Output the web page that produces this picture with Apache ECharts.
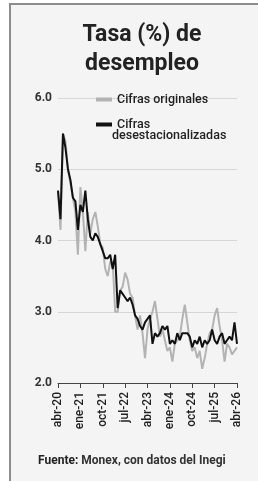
<!DOCTYPE html>
<html>
<head>
<meta charset="utf-8">
<script src="https://cdn.jsdelivr.net/npm/echarts@6/dist/echarts.min.js"></script>
<style>
  html, body { margin: 0; padding: 0; background: #fff; }
  #frame { position: absolute; left: 9px; top: 3px; width: 260px; height: 490px;
           border: 2px solid #8c8c8c; background: #f4f4f4; box-sizing: border-box; }
  #main { position: absolute; left: 0; top: 0; width: 258px; height: 481px; }
</style>
</head>
<body>
<div id="frame"></div>
<div id="main"></div>
<script>
// meses de abr-20 a abr-26
var monthNames = ['ene','feb','mar','abr','may','jun','jul','ago','sep','oct','nov','dic'];
var startYear = 2020, startMonth = 3, nMonths = 73;

// tasa original (gris)
var original = [
  4.7, 4.15, 5.5, 5.4, 5.0, 4.8, 4.6, 4.4, 3.8, 4.75, 4.4, 3.85,
  4.4, 4.1, 4.3, 4.4, 4.2, 3.95, 3.9, 3.6, 3.5, 3.7, 3.7, 3.0,
  3.0, 3.3, 3.35, 3.55, 3.45, 3.25, 3.2, 2.95, 2.75, 2.95, 2.7, 2.35,
  2.75, 2.9, 3.0, 3.15, 2.9, 2.65, 2.75, 2.6, 2.45, 2.5, 2.3, 2.55,
  2.6, 2.65, 2.9, 3.1, 2.85, 2.6, 2.45, 2.5, 2.35, 2.45, 2.2, 2.35,
  2.55, 2.7, 2.75, 2.95, 3.05, 2.8, 2.6, 2.3, 2.55, 2.5, 2.4, 2.45,
  2.5
];
// tasa desestacionalizada (negra)
var ajustada = [
  4.7, 4.3, 5.5, 5.3, 5.0, 4.85, 4.6, 4.55, 4.15, 4.5, 4.4, 4.7,
  4.3, 4.05, 4.0, 4.1, 4.05, 3.95, 3.85, 3.75, 3.75, 3.8, 3.6, 3.8,
  3.05, 3.3, 3.25, 3.2, 3.15, 3.2, 3.1, 2.95, 2.9, 2.8, 2.75, 2.85,
  2.9, 2.95, 2.55, 2.7, 2.65, 2.7, 2.8, 2.75, 2.8, 2.55, 2.6, 2.55,
  2.7, 2.6, 2.7, 2.7, 2.7, 2.65, 2.5, 2.6, 2.55, 2.65, 2.5, 2.6,
  2.55, 2.6, 2.75, 2.6, 2.55, 2.65, 2.7, 2.55, 2.6, 2.65, 2.6, 2.85,
  2.55
];

var meses = [];
for (var i = 0; i < nMonths; i++) {
  var m = (startMonth + i) % 12;
  var y = startYear + Math.floor((startMonth + i) / 12);
  meses.push(monthNames[m] + '-' + String(y).slice(2));
}

var chart = echarts.init(document.getElementById('main'));
var font = 'Roboto';
var legendText = { fontFamily: font, fontSize: 12.5, fontWeight: 500, color: '#222' };
var option = {
  animation: false,
  textStyle: { fontFamily: font },
  title: [
    {
      text: 'Tasa (%) de\ndesempleo',
      left: 137, top: 16, textAlign: 'center',
      textStyle: { fontFamily: font, fontSize: 23, fontWeight: 'bold', color: '#222', lineHeight: 29 }
    },
    {
      text: '{b|Fuente:} Monex, con datos del Inegi',
      left: 33, top: 450,
      textStyle: {
        fontFamily: font, fontSize: 12, color: '#333',
        rich: { b: { fontFamily: font, fontSize: 12, fontWeight: 'bold', color: '#222' } }
      }
    }
  ],
  legend: [
    {
      data: ['Cifras originales'],
      left: 91, top: 88,
      icon: 'rect', itemWidth: 16, itemHeight: 4, itemGap: 5,
      textStyle: legendText
    },
    {
      data: ['Cifras desestacionalizadas'],
      left: 91, top: 113,
      icon: 'rect', itemWidth: 16, itemHeight: 4, itemGap: 5,
      formatter: function () { return 'Cifras'; },
      textStyle: legendText
    }
  ],
  graphic: [
    {
      type: 'text', left: 112, top: 129,
      style: { text: 'desestacionalizadas', fill: '#222', font: '500 12.5px Roboto' }
    }
  ],
  grid: { left: 58, right: 21, top: 98, bottom: 98 },
  xAxis: {
    type: 'category',
    data: meses,
    boundaryGap: false,
    axisLine: { lineStyle: { color: '#444', width: 1 } },
    axisTick: { interval: 8, length: 5, lineStyle: { color: '#444' } },
    axisLabel: { interval: 8, rotate: 90, margin: 9, fontFamily: font, fontSize: 12, fontWeight: 500, color: '#222' }
  },
  yAxis: {
    type: 'value',
    min: 2, max: 6, interval: 1,
    axisLine: { show: false },
    axisTick: { show: false },
    splitLine: { lineStyle: { color: '#d6d6d6', width: 1 } },
    axisLabel: {
      margin: 6, fontFamily: font, fontSize: 12, fontWeight: 'bold', color: '#333',
      formatter: function (v) { return v.toFixed(1); }
    }
  },
  series: [
    {
      name: 'Cifras originales',
      type: 'line',
      data: original,
      symbol: 'none',
      color: '#b3b3b3',
      lineStyle: { width: 2, color: '#b3b3b3' }
    },
    {
      name: 'Cifras desestacionalizadas',
      type: 'line',
      data: ajustada,
      symbol: 'none',
      color: '#111',
      lineStyle: { width: 2, color: '#111' }
    }
  ]
};
chart.setOption(option);
</script>
</body>
</html>
